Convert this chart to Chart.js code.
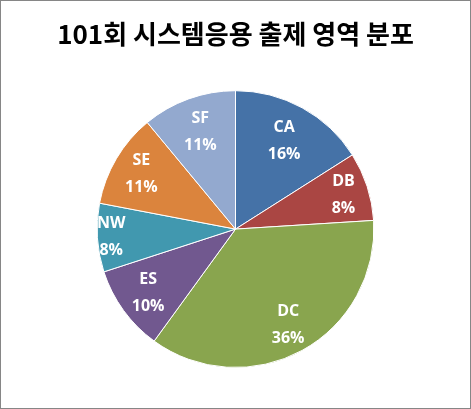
<!DOCTYPE html>
<html>
<head>
<meta charset="utf-8">
<script src="https://cdn.jsdelivr.net/npm/chart.js@4"></script>
<style>
  html, body { margin: 0; padding: 0; background: #fff; }
  #wrap { position: relative; width: 471px; height: 409px; box-sizing: border-box; border: 1px solid #868686; }
</style>
</head>
<body>
<div id="wrap"><canvas id="c"></canvas></div>
<script>
const titleText = '101회 시스템응용 출제 영역 분포';
const categories = ['CA', 'DB', 'DC', 'ES', 'NW', 'SE', 'SF'];
const percents = [16, 8, 36, 10, 8, 11, 11];
const colors = ['#4572A7', '#AA4643', '#89A54E', '#71588F', '#4198AF', '#DB843D', '#93A9CF'];

const pieLabels = {
  id: 'pieLabels',
  afterDatasetsDraw(chart, args, opts) {
    const ctx = chart.ctx;
    const meta = chart.getDatasetMeta(0);
    const data = chart.data.datasets[0].data;
    const total = data.reduce((a, b) => a + b, 0);
    ctx.save();
    ctx.fillStyle = '#fff';
    ctx.font = 'bold 16px "Open Sans", "Noto Sans", sans-serif';
    ctx.textAlign = 'center';
    ctx.textBaseline = 'middle';
    meta.data.forEach((arc, i) => {
      const p = arc.getProps(['x', 'y', 'startAngle', 'endAngle', 'outerRadius'], true);
      const mid = (p.startAngle + p.endAngle) / 2;
      const r = p.outerRadius * opts.radii[i];
      const x = p.x + Math.cos(mid) * r;
      const y = p.y + Math.sin(mid) * r;
      const pct = Math.round(data[i] / total * 100) + '%';
      ctx.fillText(chart.data.labels[i], x, y - 13);
      ctx.fillText(pct, x, y + 14);
    });
    ctx.restore();
  }
};

new Chart(document.getElementById('c'), {
  type: 'pie',
  data: {
    labels: categories,
    datasets: [{
      data: percents,
      backgroundColor: colors,
      borderColor: '#ffffff',
      borderWidth: 1,
      hoverOffset: 0
    }]
  },
  options: {
    responsive: true,
    maintainAspectRatio: false,
    animation: false,
    layout: { padding: { top: 0, bottom: 40, left: 10, right: 10 } },
    plugins: {
      legend: { display: false },
      tooltip: { enabled: false },
      title: {
        display: true,
        text: titleText,
        color: '#000',
        font: { family: '"Noto Sans CJK KR", sans-serif', size: 26, weight: 'bold', lineHeight: 1.2 },
        padding: { top: 18, bottom: 40 }
      },
      pieLabels: { radii: [0.73, 0.82, 0.79, 0.78, 0.9, 0.79, 0.75] }
    }
  },
  plugins: [pieLabels]
});
</script>
</body>
</html>
